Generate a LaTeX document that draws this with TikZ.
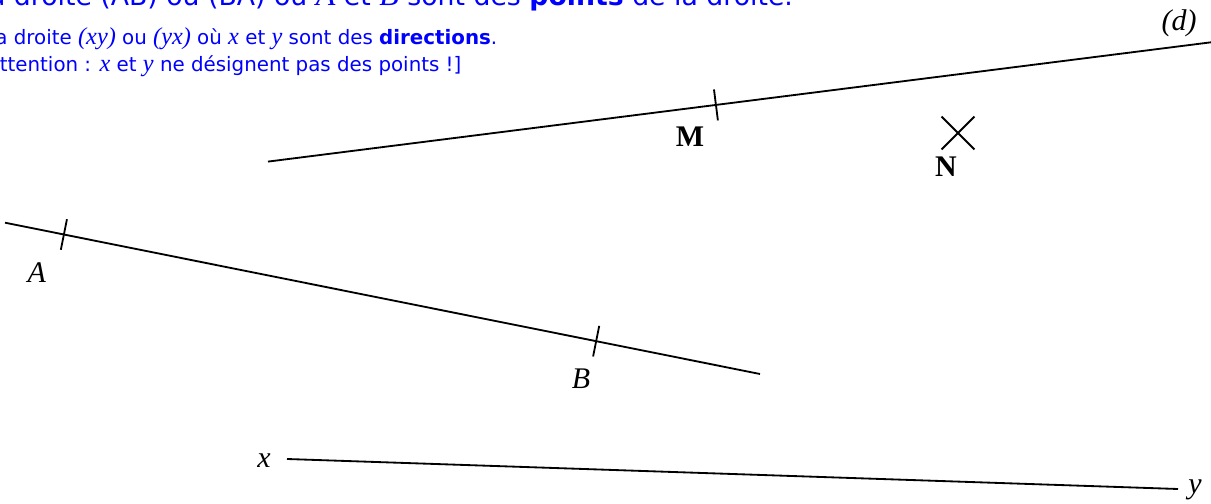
\documentclass[tikz,border=0pt]{standalone}
\usepackage{fontspec}
\usepackage{relsize}
\setmainfont{Liberation Serif}
\setsansfont{DejaVu Sans}
\usetikzlibrary{calc,shapes.misc}

\newcommand{\mvar}[1]{{\rmfamily\itshape\relscale{1.2}#1}}

\begin{document}
\begin{tikzpicture}[x=0.025cm,y=-0.025cm,line width=1.3pt,
    txt/.style={blue,font=\sffamily\fontsize{14.1}{19}\selectfont,anchor=base west,inner sep=0pt},
    bigtxt/.style={txt,font=\sffamily\fontsize{19}{23}\selectfont},
    lbl/.style={font=\fontsize{21.3}{24}\selectfont\itshape,inner sep=0pt},
    ptlbl/.style={font=\fontsize{21.3}{24}\selectfont\bfseries,inner sep=0pt}]

  \clip (0,0) rectangle (1211,504);

  % Text at the top
  \node[bigtxt] (l1) at (13,6) {\llap{La }droite (AB) ou (BA) où \mvar{A} et \mvar{B} sont des \textbf{points} de la droite.};
  \node[txt] (l2) at (13,44.3) {\llap{La }droite \mvar{(xy)} ou \mvar{(yx)} où \mvar{x} et \mvar{y} sont des \textbf{directions}.};
  \node[txt] (l3) at (-1,71.7) {\llap{[A}ttention : \mvar{x} et \mvar{y} ne désignent pas des points !]};

  % Define end points of the lines
  \coordinate (d1) at (268,161.6);
  \coordinate (d2) at (1215,41.8);
  \coordinate (a1) at (5,222.7);
  \coordinate (a2) at (760,374);
  \coordinate (x1) at (287,459);
  \coordinate (y1) at (1178,489);

  % Draw the lines
  \draw (d1) -- (d2) coordinate[pos=0.473] (M);
  \draw (a1) -- (a2) coordinate[pos=0.078] (A) coordinate[pos=0.783] (B);
  \draw (x1) -- (y1);

  % Ticks on the points
  \foreach \p/\q in {M/d2, A/a2, B/a2}
    \draw ($(\p)!0.39cm!90:(\q)$) -- ($(\p)!0.39cm!-90:(\q)$);

  \node[draw,cross out,minimum size=0.775cm,inner sep=0pt] (N) at (958,133) {};

  % Labels
  \node[ptlbl] (Mlbl) at (690,137) {M};
  \node[ptlbl] (Nlbl) at (946,167) {N};
  \node[lbl] (dlbl) at (1179,23) {(d)};
  \node[lbl] (Albl) at (36.7,272.5) {A};
  \node[lbl] (Blbl) at (581,379) {B};
  \node[lbl] (xlbl) at (264,461) {x};
  \node[lbl] (ylbl) at (1195,490) {y};
\end{tikzpicture}
\end{document}
